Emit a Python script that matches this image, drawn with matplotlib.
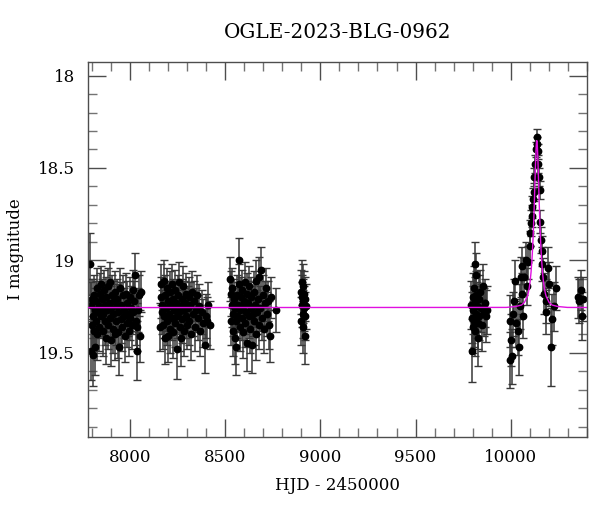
import numpy as np
import matplotlib
matplotlib.use("Agg")
import matplotlib.pyplot as plt
from matplotlib.ticker import MultipleLocator

# OGLE light curve
# season 2017
s1_t = [7792, 7795, 7797, 7799, 7801, 7803, 7806, 7808, 7811, 7814, 7818, 7820, 7823, 7826,
        7829, 7832, 7835, 7838, 7841, 7845, 7848, 7851, 7854, 7857, 7860, 7864, 7867, 7870,
        7873, 7876, 7880, 7883, 7886, 7890, 7893, 7896, 7899, 7902, 7905, 7909, 7912, 7915,
        7919, 7922, 7925, 7929, 7932, 7936, 7939, 7943, 7946, 7950, 7954, 7958, 7962, 7966,
        7970, 7974, 7978, 7982, 7986, 7990, 7994, 7998, 8002, 8006, 8010, 8014, 8018, 8022,
        8026, 8030, 8034, 8038, 8042, 8046, 8051, 8056]
s1_m = [19.02, 19.24, 19.49, 19.35, 19.21, 19.51, 19.30, 19.38, 19.19, 19.27, 19.47, 19.33, 19.22, 19.40,
        19.15, 19.28, 19.25, 19.36, 19.18, 19.13, 19.30, 19.26, 19.21, 19.38, 19.29, 19.16, 19.33, 19.24,
        19.42, 19.20, 19.27, 19.35, 19.14, 19.23, 19.31, 19.12, 19.43, 19.26, 19.19, 19.37, 19.29, 19.22,
        19.40, 19.17, 19.33, 19.25, 19.21, 19.39, 19.28, 19.47, 19.15, 19.32, 19.24, 19.36, 19.19, 19.30,
        19.27, 19.41, 19.18, 19.34, 19.23, 19.29, 19.38, 19.20, 19.31, 19.26, 19.35, 19.16, 19.28, 19.22,
        19.08, 19.33, 19.49, 19.36, 19.27, 19.19, 19.41, 19.17]
s1_e = [0.17, 0.12, 0.16, 0.13, 0.11, 0.17, 0.12, 0.14, 0.11, 0.12, 0.15, 0.13, 0.11, 0.14,
        0.11, 0.12, 0.12, 0.13, 0.11, 0.10, 0.12, 0.12, 0.11, 0.14, 0.12, 0.11, 0.13, 0.12,
        0.14, 0.11, 0.12, 0.13, 0.10, 0.12, 0.12, 0.11, 0.14, 0.12, 0.11, 0.13, 0.12, 0.11,
        0.14, 0.11, 0.13, 0.12, 0.11, 0.14, 0.12, 0.15, 0.11, 0.13, 0.12, 0.13, 0.11, 0.12,
        0.12, 0.14, 0.11, 0.13, 0.12, 0.12, 0.14, 0.11, 0.12, 0.12, 0.13, 0.11, 0.12, 0.11,
        0.12, 0.13, 0.16, 0.13, 0.12, 0.11, 0.14, 0.11]

# season 2018
s2_t = [8158, 8161, 8164, 8167, 8170, 8173, 8176, 8179, 8182, 8186, 8189, 8192, 8195, 8198,
        8201, 8205, 8208, 8211, 8214, 8218, 8221, 8225, 8228, 8231, 8235, 8238, 8241, 8245,
        8248, 8251, 8255, 8258, 8262, 8265, 8268, 8272, 8275, 8279, 8282, 8286, 8289, 8293,
        8296, 8300, 8304, 8308, 8312, 8316, 8320, 8325, 8330, 8335, 8340, 8346, 8352, 8358,
        8364, 8370, 8377, 8385, 8393, 8400, 8406, 8412, 8418]
s2_m = [19.36, 19.20, 19.13, 19.28, 19.24, 19.35, 19.11, 19.30, 19.19, 19.42, 19.26, 19.15, 19.33, 19.41,
        19.22, 19.29, 19.17, 19.37, 19.25, 19.13, 19.31, 19.21, 19.39, 19.27, 19.16, 19.34, 19.23, 19.30,
        19.48, 19.19, 19.28, 19.12, 19.36, 19.25, 19.42, 19.21, 19.32, 19.14, 19.27, 19.38, 19.23, 19.30,
        19.18, 19.35, 19.26, 19.20, 19.33, 19.24, 19.40, 19.17, 19.29, 19.22, 19.36, 19.27, 19.19, 19.31,
        19.25, 19.38, 19.28, 19.34, 19.46, 19.30, 19.33, 19.24, 19.35]
s2_e = [0.13, 0.11, 0.11, 0.12, 0.12, 0.13, 0.11, 0.12, 0.11, 0.14, 0.12, 0.11, 0.13, 0.14,
        0.11, 0.12, 0.11, 0.13, 0.12, 0.11, 0.12, 0.11, 0.14, 0.12, 0.11, 0.13, 0.12, 0.12,
        0.16, 0.11, 0.12, 0.11, 0.13, 0.12, 0.15, 0.11, 0.13, 0.11, 0.12, 0.14, 0.12, 0.12,
        0.11, 0.13, 0.12, 0.11, 0.13, 0.12, 0.14, 0.11, 0.12, 0.11, 0.13, 0.12, 0.11, 0.12,
        0.12, 0.14, 0.12, 0.13, 0.15, 0.12, 0.13, 0.12, 0.13]

# season 2019
s3_t = [8526, 8528, 8531, 8534, 8537, 8540, 8543, 8546, 8549, 8552, 8555, 8558, 8561, 8564,
        8567, 8570, 8574, 8577, 8580, 8583, 8586, 8590, 8593, 8596, 8600, 8603, 8606, 8610,
        8613, 8617, 8620, 8624, 8627, 8631, 8634, 8638, 8642, 8645, 8649, 8652, 8656, 8660,
        8664, 8668, 8672, 8676, 8680, 8684, 8688, 8692, 8697, 8702, 8707, 8712, 8718, 8724,
        8730, 8736, 8742, 8767]
s3_m = [19.10, 19.18, 19.33, 19.24, 19.15, 19.29, 19.38, 19.21, 19.42, 19.26, 19.33, 19.47, 19.19, 19.30,
        19.24, 19.13, 19.00, 19.27, 19.36, 19.20, 19.31, 19.16, 19.25, 19.39, 19.22, 19.12, 19.34, 19.28,
        19.18, 19.45, 19.23, 19.30, 19.14, 19.37, 19.26, 19.20, 19.46, 19.29, 19.17, 19.33, 19.24, 19.40,
        19.11, 19.28, 19.21, 19.35, 19.09, 19.26, 19.05, 19.31, 19.19, 19.37, 19.23, 19.15, 19.29, 19.22,
        19.35, 19.41, 19.20, 19.27]
s3_e = [0.12, 0.12, 0.13, 0.12, 0.11, 0.12, 0.14, 0.11, 0.14, 0.12, 0.13, 0.15, 0.11, 0.12,
        0.12, 0.11, 0.12, 0.12, 0.13, 0.11, 0.12, 0.11, 0.12, 0.14, 0.11, 0.11, 0.13, 0.12,
        0.11, 0.15, 0.12, 0.12, 0.11, 0.13, 0.12, 0.11, 0.15, 0.12, 0.11, 0.13, 0.12, 0.14,
        0.11, 0.12, 0.11, 0.13, 0.11, 0.12, 0.12, 0.12, 0.11, 0.13, 0.12, 0.11, 0.12, 0.11,
        0.13, 0.14, 0.11, 0.12]

# season 2020
s4_t = [8898, 8900, 8902, 8904, 8905, 8907, 8908, 8910, 8911, 8913, 8915, 8917, 8919, 8921, 8924]
s4_m = [19.17, 19.33, 19.12, 19.24, 19.20, 19.29, 19.14, 19.36, 19.22, 19.26, 19.18, 19.41, 19.30, 19.21, 19.25]
s4_e = [0.12, 0.13, 0.12, 0.12, 0.12, 0.13, 0.12, 0.14, 0.12, 0.12, 0.12, 0.15, 0.13, 0.12, 0.12]

# season 2022
s5_t = [9793, 9796, 9798, 9800, 9802, 9804, 9806, 9808, 9810, 9812, 9814, 9816, 9818, 9820,
        9823, 9826, 9829, 9832, 9836, 9840, 9845, 9850, 9855, 9860, 9864, 9869, 9874]
s5_m = [19.24, 19.31, 19.49, 19.20, 19.36, 19.27, 19.15, 19.33, 19.22, 19.02, 19.38, 19.19, 19.29, 19.08,
        19.25, 19.34, 19.42, 19.21, 19.30, 19.17, 19.26, 19.35, 19.14, 19.28, 19.23, 19.30, 19.27]
s5_e = [0.13, 0.14, 0.17, 0.13, 0.14, 0.13, 0.12, 0.14, 0.13, 0.12, 0.14, 0.13, 0.13, 0.12,
        0.13, 0.14, 0.15, 0.13, 0.13, 0.12, 0.13, 0.14, 0.12, 0.13, 0.13, 0.14, 0.13]

# season 2023 (the event)
s6_t = [9995, 9997, 10000, 10009, 10010, 10018, 10023, 10030, 10040, 10044, 10048, 10053, 10058, 10061,
        10065, 10072, 10079, 10088, 10093, 10100, 10103, 10107, 10111, 10114, 10117, 10123, 10124, 10128,
        10131, 10137, 10140, 10144, 10145, 10149, 10154, 10156, 10158, 10163, 10166, 10171, 10177, 10184,
        10187, 10194, 10201, 10210, 10218, 10227, 10236]
s6_m = [19.33, 19.54, 19.43, 19.52, 19.29, 19.22, 19.11, 19.34, 19.38, 19.47, 19.25, 19.09, 19.03, 19.18,
        19.30, 19.09, 19.00, 19.14, 19.01, 18.92, 18.85, 18.80, 18.76, 18.71, 18.67, 18.63, 18.55, 18.48,
        18.40, 18.33, 18.37, 18.41, 18.48, 18.55, 18.62, 18.79, 18.89, 18.95, 19.02, 19.09, 19.18, 19.22,
        19.28, 19.04, 19.13, 19.47, 19.32, 19.25, 19.15]
s6_e = [0.14, 0.15, 0.14, 0.15, 0.12, 0.12, 0.11, 0.13, 0.13, 0.15, 0.12, 0.11, 0.10, 0.11,
        0.12, 0.10, 0.10, 0.10, 0.09, 0.08, 0.07, 0.07, 0.06, 0.06, 0.06, 0.05, 0.05, 0.05,
        0.04, 0.04, 0.04, 0.04, 0.05, 0.05, 0.05, 0.06, 0.07, 0.08, 0.09, 0.10, 0.11, 0.12,
        0.12, 0.11, 0.12, 0.21, 0.14, 0.13, 0.12]

# season 2024
s7_t = [10352, 10360, 10368, 10373, 10379]
s7_m = [19.20, 19.22, 19.16, 19.30, 19.21]
s7_e = [0.11, 0.12, 0.11, 0.13, 0.12]

# microlensing model (magenta)
model_t = [7700, 9977, 10027, 10057, 10072, 10087, 10092, 10097, 10102, 10107, 10112, 10114.5,
           10117, 10119.5, 10122, 10124.5, 10127, 10129, 10131, 10134, 10135.5, 10137,
           10138.5, 10140, 10143, 10145, 10147, 10149.5, 10152, 10154.5, 10157, 10159.5,
           10162, 10167, 10172, 10177, 10182, 10187, 10202, 10217, 10247, 10297, 10500]
model_m = [19.256, 19.255, 19.250, 19.242, 19.228, 19.197, 19.178, 19.152, 19.115, 19.063, 18.992, 18.945,
           18.892, 18.829, 18.758, 18.678, 18.592, 18.523, 18.457, 18.381, 18.359, 18.352,
           18.359, 18.381, 18.457, 18.523, 18.592, 18.678, 18.758, 18.829, 18.892, 18.945,
           18.992, 19.063, 19.115, 19.152, 19.178, 19.197, 19.228, 19.242, 19.250, 19.255, 19.256]

seasons = [(s1_t, s1_m, s1_e), (s2_t, s2_m, s2_e), (s3_t, s3_m, s3_e), (s4_t, s4_m, s4_e),
           (s5_t, s5_m, s5_e), (s6_t, s6_m, s6_e), (s7_t, s7_m, s7_e)]

plt.rcParams['font.family'] = 'DejaVu Serif'
plt.rcParams['font.size'] = 12

fig = plt.figure(figsize=(6, 5.12), dpi=100)
ax = fig.add_axes([0.146, 0.147, 0.833, 0.7325])

# data points with error bars
for t, m, e in seasons:
    ax.errorbar(t, m, yerr=e, fmt='o', color='black', markersize=4.6,
                ecolor='0.22', elinewidth=1.1, capsize=2.6, capthick=1.0, zorder=2)

# model curve
ax.plot(model_t, model_m, color='#e010e0', lw=1.0, zorder=3)

ax.set_xlim(7777, 10403)
ax.set_ylim(19.955, 17.925)

ax.xaxis.set_major_locator(MultipleLocator(500))
ax.xaxis.set_minor_locator(MultipleLocator(100))
ax.yaxis.set_major_locator(MultipleLocator(0.5))
ax.yaxis.set_minor_locator(MultipleLocator(0.1))
ax.yaxis.set_major_formatter(plt.FuncFormatter(lambda v, p: '%g' % v))

ax.tick_params(which='both', direction='in', top=True, right=True)
ax.tick_params(which='major', length=13, width=1.0, color='0.3', pad=9)
ax.tick_params(which='minor', length=6.5, width=1.0, color='0.45')
for sp in ax.spines.values():
    sp.set_color('0.3')
    sp.set_linewidth(1.0)

ax.set_title('OGLE-2023-BLG-0962', pad=17)
ax.set_xlabel('HJD - 2450000', labelpad=8)
ax.set_ylabel('I magnitude', labelpad=10)

plt.savefig('out.png', dpi=100)
